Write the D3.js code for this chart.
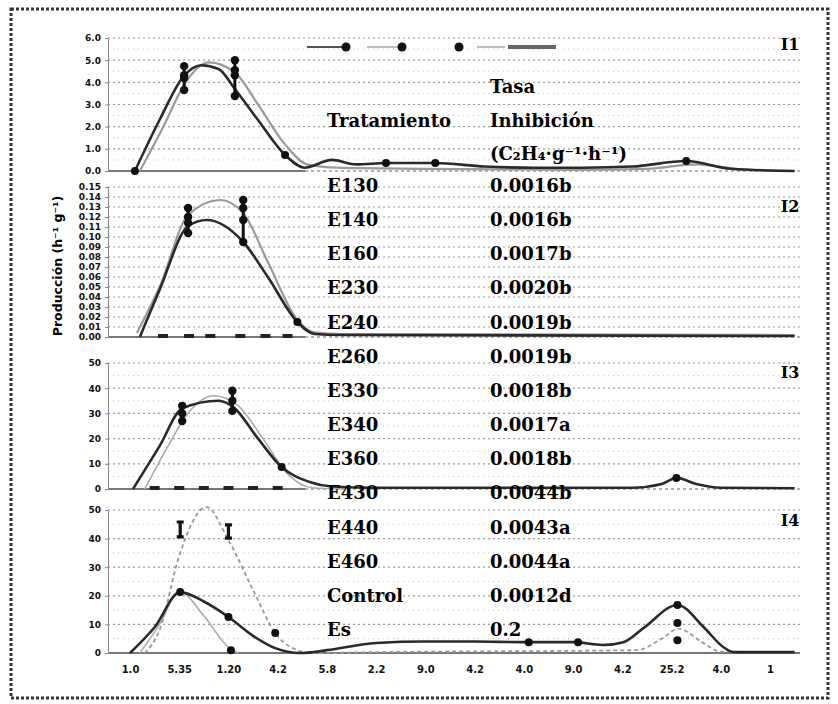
<!DOCTYPE html>
<html lang="es">
<head>
<meta charset="UTF-8">
<title>I1-I4</title>
<script src="https://d3js.org/d3.v7.min.js"></script>
<style>
    body{ margin:0; background:#fff; }
    .axis path, .axis line{ fill:none; stroke:#888; shape-rendering:auto; }
    .axis text{ font:bold 9px "DejaVu Sans", sans-serif; fill:#111; }
    .grid{ stroke:#9c9c9c; stroke-width:1.2; stroke-dasharray:2,3; }
    .grid2{ stroke:#c4c4c4; stroke-width:1; stroke-dasharray:1,4; }
    .dark{ fill:none; stroke:#2a2a2a; stroke-width:2.6; }
    .gray{ fill:none; stroke:#9a9a9a; stroke-width:2.2; }
    .dash{ fill:none; stroke:#999; stroke-width:1.8; stroke-dasharray:4,3; }
    .thin{ fill:none; stroke:#ababab; stroke-width:1.6; }
    .tbl{ font:bold 18px "DejaVu Serif", serif; fill:#000; }
</style>
</head>
<body>
<script>
    var w = 838;
    var h = 704;

    // x axis labels (positions 0..13)
    var xLabels = ["1.0","5.35","1.20","4.2","5.8","2.2","9.0","4.2","4.0","9.0","4.2","25.2","4.0","1"];

    var panelNames = ["I1","I2","I3","I4"];
    var i1Ticks = [0,1,2,3,4,5,6];
    var i2Ticks = [0,0.01,0.02,0.03,0.04,0.05,0.06,0.07,0.08,0.09,0.10,0.11,0.12,0.13,0.14,0.15];
    var i3Ticks = [0,10,20,30,40,50];
    var i4Ticks = [0,10,20,30,40,50];

    // I1
    var i1Dark = [[0.1,0],[0.6,2.3],[1.1,4.3],[1.45,4.77],[1.8,4.6],[2.13,3.7],[2.6,2.3],[3.15,0.72],[3.55,0.15],[4.1,0.5],[4.6,0.3],[5.2,0.36],[6.2,0.36],[7.2,0.2],[8.2,0.15],[9.2,0.15],[10.2,0.2],[11.3,0.45],[12.2,0.1],[13.5,0]];
    var i1Gray = [[0.2,0],[0.7,2.1],[1.1,3.9],[1.6,4.9],[2.13,4.45],[2.6,3.0],[3.15,1.2],[3.6,0.3],[4.2,0.15],[6,0.1],[9,0.05],[10.5,0.1],[11.5,0.3],[12.5,0.05],[13.5,0]];
    var i1Reps = [[1.1,4.73],[1.1,4.32],[1.1,4.19],[1.1,3.65],[2.13,5.0],[2.13,4.55],[2.13,4.32],[2.13,3.38]];
    var i1Points = [[0.1,0],[3.15,0.72],[5.2,0.36],[6.2,0.36],[11.3,0.45]];

    // I2
    var i2Gray = [[0.14,0.004],[0.6,0.05],[1.18,0.122],[1.83,0.137],[2.3,0.124],[2.8,0.075],[3.4,0.017],[3.72,0.005],[4.3,0.003],[13.5,0.002]];
    var i2Dark = [[0.2,0],[0.6,0.047],[1.18,0.111],[1.56,0.117],[2.3,0.095],[2.8,0.06],[3.4,0.015],[3.75,0.003],[4.3,0.002],[13.5,0.001]];
    var i2Reps = [[1.18,0.129],[1.18,0.12],[1.18,0.114],[1.18,0.104],[2.3,0.137],[2.3,0.129],[2.3,0.117],[2.3,0.095]];
    var i2Points = [[3.4,0.015]];
    var i2Low = [0.67,1.2,1.63,2.24,2.75,3.2];

    // I3
    var i3Dark = [[0.06,0],[0.6,17],[1.06,32],[1.8,35],[2.1,32.5],[2.6,20],[3.08,8.7],[3.65,2.8],[4.1,1],[5,0.5],[10.2,0.5],[10.8,2],[11.1,4.4],[11.5,2],[12,0.5],[13.5,0.3]];
    var i3Gray = [[0.3,0],[0.8,18],[1.1,28],[1.7,37],[2.2,33],[2.7,20],[3.2,6],[3.7,0.5],[4.3,0]];
    var i3Reps = [[1.06,33],[1.06,30],[1.06,27],[2.08,39],[2.08,35],[2.08,31]];
    var i3Points = [[3.08,8.7],[11.1,4.4]];
    var i3Low = [0.5,1.0,1.5,2.0,2.5,3.0];

    // I4
    var i4Dark = [[0,0],[0.5,9],[1.02,21.3],[1.5,18],[2.0,12.6],[2.5,6],[2.95,1.7],[3.45,0],[4,1],[5,3.5],[6,4],[7,4],[8,3.8],[9,3.8],[9.6,2.8],[10.02,3.8],[10.43,8.7],[11.12,16.8],[11.65,9.1],[12.05,2.1],[12.26,0.3],[13.5,0.3]];
    var i4Dash = [[0.3,0],[0.6,8],[1.0,34],[1.55,51],[2.0,39.5],[2.5,22],[2.95,7],[3.4,1],[3.7,0],[5,0.3],[10.3,1],[10.8,5],[11.15,8.5],[11.6,4],[12,0.5],[13.5,0.3]];
    var i4Thin = [[0.2,0],[0.6,10],[1.0,21.5],[1.5,13],[2.0,2],[2.2,0]];
    var i4Err = [[1.02,40.6,45.8],[2.0,40.2,44.8]];
    var i4Points = [[1.02,21.3],[2.0,12.6],[2.95,7],[2.05,1],[8.1,3.8],[9.1,3.8],[11.12,16.8],[11.12,10.5],[11.12,4.5]];

    // table
    var tblHead = ["Tasa","Tratamiento","Inhibición","(C₂H₄·g⁻¹·h⁻¹)"];
    var treatments = ["E130","E140","E160","E230","E240","E260","E330","E340","E360","E430","E440","E460","Control","Es"];
    var rates = ["0.0016b","0.0016b","0.0017b","0.0020b","0.0019b","0.0019b","0.0018b","0.0017a","0.0018b","0.0044b","0.0043a","0.0044a","0.0012d","0.2"];

    var panels = [
        {name:panelNames[0], ticks:i1Ticks, fmt:".1f", top:38, bottom:171, ly:45,
         lines:[[i1Gray,"gray"],[i1Dark,"dark"]], reps:i1Reps, points:i1Points, low:[], err:[]},
        {name:panelNames[1], ticks:i2Ticks, fmt:".2f", top:187, bottom:337, ly:207,
         lines:[[i2Gray,"gray"],[i2Dark,"dark"]], reps:i2Reps, points:i2Points, low:i2Low, err:[]},
        {name:panelNames[2], ticks:i3Ticks, fmt:"d", top:363, bottom:489, ly:373,
         lines:[[i3Gray,"thin"],[i3Dark,"dark"]], reps:i3Reps, points:i3Points, low:i3Low, err:[]},
        {name:panelNames[3], ticks:i4Ticks, fmt:"d", top:510, bottom:653, ly:521,
         lines:[[i4Thin,"thin"],[i4Dash,"dash"],[i4Dark,"dark"]], reps:[], points:i4Points, low:[], err:i4Err}
    ];

    var svg = d3.select("body").append("svg")
        .attr("width", w)
        .attr("height", h);

    svg.append("rect")
        .attr("width", w).attr("height", h)
        .attr("fill", "white");

    var xScale = d3.scaleLinear().domain([0,13]).range([130,770]);
    var left = 108, right = 800;

    panels.forEach(function(p, pi){
        var yScale = d3.scaleLinear()
            .domain([0, d3.max(p.ticks)])
            .range([p.bottom, p.top]);
        var g = svg.append("g");

        // grid
        if (p.ticks.length < 10) {
            var step = p.ticks[1] - p.ticks[0];
            g.selectAll(".grid2")
                .data(p.ticks.slice(0,-1))
                .enter().append("line")
                .attr("class","grid2")
                .attr("x1", left).attr("x2", right)
                .attr("y1", d => yScale(d + step/2))
                .attr("y2", d => yScale(d + step/2));
        }
        g.selectAll(".grid")
            .data(p.ticks.slice(1))
            .enter().append("line")
            .attr("class","grid")
            .attr("x1", left).attr("x2", right)
            .attr("y1", d => yScale(d))
            .attr("y2", d => yScale(d));

        // baseline: solid under the small chart, dotted beyond (full in last panel)
        g.append("line")
            .attr("x1", left).attr("x2", pi == 3 ? right : 305)
            .attr("y1", p.bottom).attr("y2", p.bottom)
            .attr("stroke", "#777").attr("stroke-width", 2);
        if (pi < 3) {
            g.append("line")
                .attr("x1", 305).attr("x2", right)
                .attr("y1", p.bottom).attr("y2", p.bottom)
                .attr("stroke", "#999").attr("stroke-width", 1.5)
                .attr("stroke-dasharray", "3,3");
        }

        g.append("g")
            .classed("axis", true)
            .attr("transform", `translate(${left},0)`)
            .call(d3.axisLeft(yScale).tickValues(p.ticks).tickSize(3).tickPadding(4).tickFormat(d3.format(p.fmt)));

        var line = d3.line()
            .x(d => xScale(d[0]))
            .y(d => yScale(d[1]))
            .curve(d3.curveMonotoneX);

        p.lines.forEach(function(l){
            g.append("path")
                .datum(l[0])
                .attr("class", l[1])
                .attr("d", line);
        });

        // low dashes
        g.selectAll(".low")
            .data(p.low)
            .enter().append("rect")
            .attr("x", d => xScale(d) - 5)
            .attr("y", p.bottom - 3)
            .attr("width", 10).attr("height", 4)
            .attr("fill", "#222");

        // replicate stacks
        var groups = d3.group(p.reps, d => d[0]);
        groups.forEach(function(vals, key){
            g.append("line")
                .attr("x1", xScale(key)).attr("x2", xScale(key))
                .attr("y1", yScale(d3.min(vals, d => d[1])))
                .attr("y2", yScale(d3.max(vals, d => d[1])))
                .attr("stroke", "#111").attr("stroke-width", 3);
        });
        g.selectAll(".rep")
            .data(p.reps)
            .enter().append("circle")
            .attr("cx", d => xScale(d[0]))
            .attr("cy", d => yScale(d[1]))
            .attr("r", 4.2)
            .attr("fill", "#111");

        g.selectAll(".pt")
            .data(p.points)
            .enter().append("circle")
            .attr("cx", d => xScale(d[0]))
            .attr("cy", d => yScale(d[1]))
            .attr("r", 4)
            .attr("fill", "#111");

        // error bars
        p.err.forEach(function(e){
            var ex = xScale(e[0]);
            g.append("path")
                .attr("d", `M${ex},${yScale(e[1])}V${yScale(e[2])}M${ex-3.5},${yScale(e[1])}H${ex+3.5}M${ex-3.5},${yScale(e[2])}H${ex+3.5}`)
                .attr("stroke", "#111").attr("stroke-width", 3.2).attr("fill","none");
        });

        svg.append("text")
            .attr("x", 790).attr("y", p.ly)
            .attr("text-anchor", "middle")
            .attr("dominant-baseline", "middle")
            .attr("font-family", "DejaVu Serif, serif")
            .attr("font-weight", "bold")
            .attr("font-size", 16)
            .text(p.name);
    });

    // x axis labels
    var xAxis = d3.axisBottom(xScale)
        .tickValues(d3.range(xLabels.length))
        .tickSize(0).tickPadding(10)
        .tickFormat(i => xLabels[i]);
    svg.append("g")
        .classed("axis", true)
        .attr("transform", "translate(0,656)")
        .call(xAxis)
        .call(g => g.select(".domain").remove())
        .selectAll("text").style("font-size", "10px");

    // y title
    svg.append("text")
        .attr("transform", "translate(62,266) rotate(-90)")
        .attr("text-anchor", "middle")
        .attr("font-family", "DejaVu Sans, sans-serif")
        .attr("font-weight", "bold")
        .attr("font-size", 12.5)
        .text("Producción (h⁻¹ g⁻¹)");

    // legend symbols
    var lg = svg.append("g");
    lg.append("line").attr("x1",307).attr("x2",343).attr("y1",47).attr("y2",47).attr("stroke","#555").attr("stroke-width",2);
    lg.append("circle").attr("cx",346).attr("cy",47).attr("r",4.5).attr("fill","#111");
    lg.append("line").attr("x1",367).attr("x2",398).attr("y1",47).attr("y2",47).attr("class","thin");
    lg.append("circle").attr("cx",402).attr("cy",47).attr("r",4.5).attr("fill","#111");
    lg.append("circle").attr("cx",459).attr("cy",47).attr("r",4.5).attr("fill","#111");
    lg.append("line").attr("x1",477).attr("x2",505).attr("y1",47).attr("y2",47).attr("class","thin");
    lg.append("line").attr("x1",508).attr("x2",556).attr("y1",47).attr("y2",47).attr("stroke","#666").attr("stroke-width",4);

    // table
    svg.append("text").attr("class","tbl").attr("x",490).attr("y",88).attr("dominant-baseline","middle").text(tblHead[0]);
    svg.append("text").attr("class","tbl").attr("x",327).attr("y",122).attr("dominant-baseline","middle").text(tblHead[1]);
    svg.append("text").attr("class","tbl").attr("x",490).attr("y",122).attr("dominant-baseline","middle").text(tblHead[2]);
    svg.append("text").attr("class","tbl").attr("x",490).attr("y",155).attr("dominant-baseline","middle").text(tblHead[3]);

    var rowY = d3.scaleLinear().domain([0, treatments.length - 1]).range([187, 631]);
    svg.selectAll(".trt")
        .data(treatments)
        .enter().append("text")
        .attr("class","tbl")
        .attr("x", 327)
        .attr("y", (d,i) => rowY(i))
        .attr("dominant-baseline","middle")
        .text(d => d);
    svg.selectAll(".rate")
        .data(rates)
        .enter().append("text")
        .attr("class","tbl")
        .attr("x", 490)
        .attr("y", (d,i) => rowY(i))
        .attr("dominant-baseline","middle")
        .text(d => d);

    // outer frame
    svg.append("rect")
        .attr("x", 11).attr("y", 9)
        .attr("width", 817).attr("height", 689)
        .attr("fill", "none")
        .attr("stroke", "#333")
        .attr("stroke-width", 3)
        .attr("stroke-dasharray", "3,2");
</script>
</body>
</html>
